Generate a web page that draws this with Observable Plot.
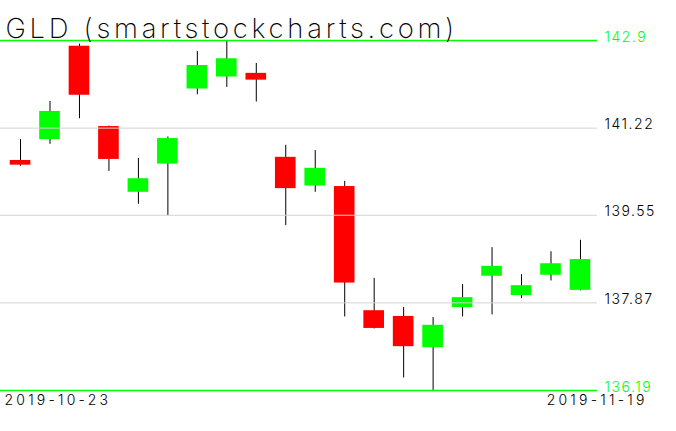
<!DOCTYPE html>
<html>
<head>
<meta charset="utf-8">
<script src="https://cdn.jsdelivr.net/npm/d3@7"></script>
<script src="https://cdn.jsdelivr.net/npm/@observablehq/plot@0.6"></script>
<style>
  html, body { margin: 0; padding: 0; background: #fff; }
  #chart svg { display: block; }
</style>
</head>
<body>
<div id="chart"></div>
<script>
const title = "GLD (smartstockcharts.com)";
const dates = ["2019-10-23","2019-10-24","2019-10-25","2019-10-28","2019-10-29","2019-10-30","2019-10-31","2019-11-01","2019-11-04","2019-11-05","2019-11-06","2019-11-07","2019-11-08","2019-11-11","2019-11-12","2019-11-13","2019-11-14","2019-11-15","2019-11-18","2019-11-19"];
const open  = [140.60, 141.00, 142.79, 141.25, 139.99, 140.53, 141.97, 142.20, 142.27, 140.66, 140.11, 140.10, 137.72, 137.61, 137.01, 137.78, 138.38, 138.01, 138.40, 138.11];
const close = [140.51, 141.54, 141.85, 140.62, 140.25, 141.02, 142.42, 142.55, 142.14, 140.06, 140.45, 138.25, 137.38, 137.03, 137.44, 137.97, 138.57, 138.20, 138.62, 138.70];
const high  = [141.00, 141.73, 142.83, 141.26, 140.64, 141.05, 142.69, 142.90, 142.46, 140.89, 140.79, 140.20, 138.34, 137.78, 137.59, 138.22, 138.93, 138.41, 138.85, 139.07];
const low   = [140.49, 140.91, 141.40, 140.39, 139.76, 139.54, 141.86, 142.00, 141.72, 139.35, 139.99, 137.60, 137.37, 136.43, 136.19, 137.60, 137.64, 137.95, 138.29, 138.10];
const tickValues = [142.9, 141.22, 139.55, 137.87, 136.19];
const tickLabels = ["142.9", "141.22", "139.55", "137.87", "136.19"];
const dateLabels = ["2019-10-23", "2019-11-19"];

const up = "#00ff00", down = "#ff0000";
const yMax = tickValues[0], yMin = tickValues[tickValues.length - 1];
const font = "Inter, 'DejaVu Sans', sans-serif";

const candles = dates.map((d, i) => ({date: d, open: open[i], close: close[i], high: high[i], low: low[i]}));
const ticks = tickValues.map((v, i) => ({v, label: tickLabels[i], extreme: v === yMax || v === yMin}));

const chart = Plot.plot({
  width: 676,
  height: 431,
  marginTop: 40,
  marginBottom: 41,
  marginLeft: 0,
  marginRight: 79,
  style: {fontFamily: font, background: "#fff", overflow: "visible"},
  x: {type: "band", domain: dates, range: [5, 595], paddingInner: 0.3, paddingOuter: 0.16, round: false, axis: null},
  y: {domain: [yMin, yMax], axis: null},
  color: {type: "identity"},
  marks: [
    Plot.ruleX(candles, {x: "date", y1: "low", y2: "high", stroke: "#000", strokeWidth: 1}),
    Plot.barY(candles, {x: "date", y1: "open", y2: "close", fill: d => d.close >= d.open ? up : down}),
    Plot.ruleY(ticks.filter(t => !t.extreme), {y: "v", stroke: "#d3d3d3", strokeWidth: 1}),
    Plot.ruleY(ticks.filter(t => t.extreme), {y: "v", stroke: up, strokeWidth: 1.3}),
    Plot.text(ticks, {y: "v", text: "label", frameAnchor: "right", textAnchor: "start", lineAnchor: "bottom", dx: 7, dy: 1, fontSize: 14, fontWeight: 300, fill: d => d.extreme ? up : "#000"}),
    Plot.text([dateLabels[0]], {text: d => d, frameAnchor: "bottom-left", textAnchor: "start", lineAnchor: "bottom", dx: 4, dy: 14, fontSize: 14, fontWeight: 300, fill: "#000"}),
    Plot.text([dateLabels[1]], {text: d => d, frameAnchor: "bottom-right", textAnchor: "end", lineAnchor: "bottom", dx: 50, dy: 14, fontSize: 14, fontWeight: 300, fill: "#000"}),
    Plot.text([title], {text: d => d, frameAnchor: "top-left", textAnchor: "start", lineAnchor: "bottom", dx: 5, dy: -2.3, fontSize: 27.5, fontWeight: 200, fill: "#000"})
  ]
});

// letter spacing to match the wide stroke font of the original
chart.querySelectorAll("text").forEach(t => {
  const s = t.textContent;
  if (s === title) t.style.letterSpacing = "3.7px";
  else if (dateLabels.includes(s)) t.style.letterSpacing = "3.2px";
  else if (tickLabels.includes(s)) t.style.letterSpacing = "1.5px";
});
document.getElementById("chart").appendChild(chart);
</script>
</body>
</html>
